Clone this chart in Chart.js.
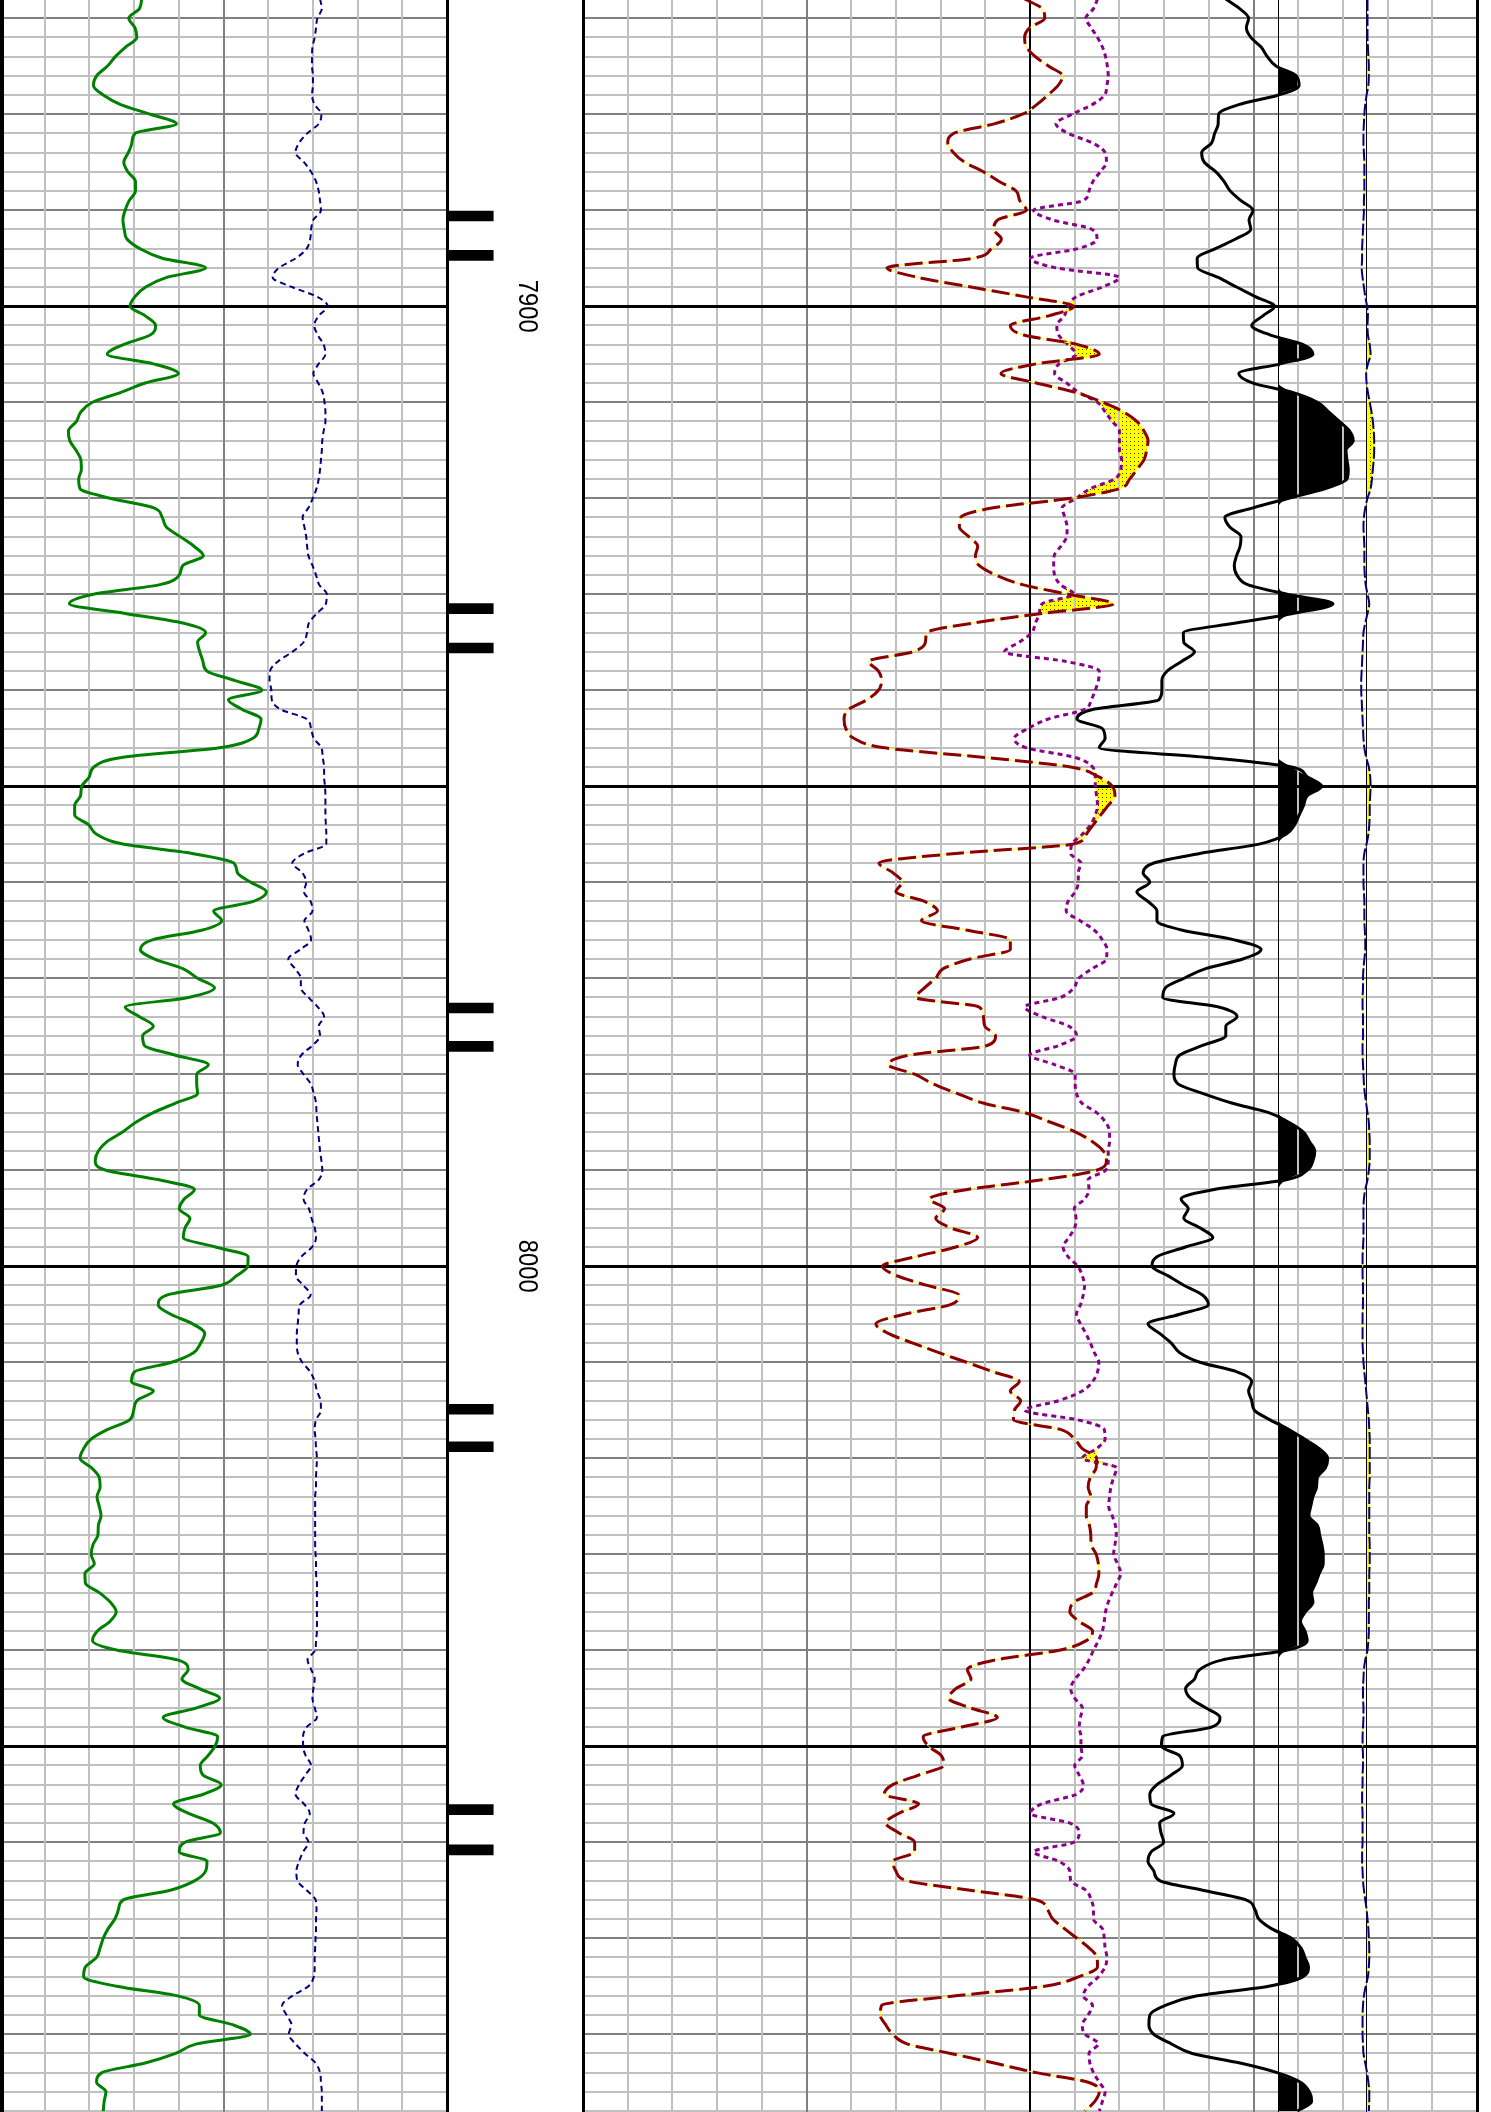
<!DOCTYPE html>
<html>
<head>
<meta charset="utf-8">
<title>Well log 7868-8088</title>
<script src="https://cdn.jsdelivr.net/npm/chart.js@4/dist/chart.umd.min.js"></script>
<style>
  html, body { margin: 0; padding: 0; background: #ffffff; }
  body { width: 1491px; height: 2112px; position: relative; overflow: hidden; }
  .trk { position: absolute; top: 0; height: 2112px; }
</style>
</head>
<body>
<div class="trk" style="left:-10px;width:467px"><canvas id="track1"></canvas></div>
<div class="trk" style="left:437px;width:156px"><canvas id="depthTrack"></canvas></div>
<div class="trk" style="left:573px;width:914px"><canvas id="track2fill"></canvas></div>
<div class="trk" style="left:573px;width:914px"><canvas id="track2"></canvas></div>
<script>
// depth window shown on the sheet (ft)
const depthTop = 7868.1;
const depthBottom = 8088.1;

// sample depths, one per foot
const depth = [
  7868, 7869, 7870, 7871, 7872, 7873, 7874, 7875, 7876, 7877,
  7878, 7879, 7880, 7881, 7882, 7883, 7884, 7885, 7886, 7887,
  7888, 7889, 7890, 7891, 7892, 7893, 7894, 7895, 7896, 7897,
  7898, 7899, 7900, 7901, 7902, 7903, 7904, 7905, 7906, 7907,
  7908, 7909, 7910, 7911, 7912, 7913, 7914, 7915, 7916, 7917,
  7918, 7919, 7920, 7921, 7922, 7923, 7924, 7925, 7926, 7927,
  7928, 7929, 7930, 7931, 7932, 7933, 7934, 7935, 7936, 7937,
  7938, 7939, 7940, 7941, 7942, 7943, 7944, 7945, 7946, 7947,
  7948, 7949, 7950, 7951, 7952, 7953, 7954, 7955, 7956, 7957,
  7958, 7959, 7960, 7961, 7962, 7963, 7964, 7965, 7966, 7967,
  7968, 7969, 7970, 7971, 7972, 7973, 7974, 7975, 7976, 7977,
  7978, 7979, 7980, 7981, 7982, 7983, 7984, 7985, 7986, 7987,
  7988, 7989, 7990, 7991, 7992, 7993, 7994, 7995, 7996, 7997,
  7998, 7999, 8000, 8001, 8002, 8003, 8004, 8005, 8006, 8007,
  8008, 8009, 8010, 8011, 8012, 8013, 8014, 8015, 8016, 8017,
  8018, 8019, 8020, 8021, 8022, 8023, 8024, 8025, 8026, 8027,
  8028, 8029, 8030, 8031, 8032, 8033, 8034, 8035, 8036, 8037,
  8038, 8039, 8040, 8041, 8042, 8043, 8044, 8045, 8046, 8047,
  8048, 8049, 8050, 8051, 8052, 8053, 8054, 8055, 8056, 8057,
  8058, 8059, 8060, 8061, 8062, 8063, 8064, 8065, 8066, 8067,
  8068, 8069, 8070, 8071, 8072, 8073, 8074, 8075, 8076, 8077,
  8078, 8079, 8080, 8081, 8082, 8083, 8084, 8085, 8086, 8087,
  8088
];

// track 1 (scale 0-10 divisions): green solid curve
const gr = [
  3.17, 3.12, 2.88, 3.02, 3.06, 2.81, 2.58, 2.40, 2.16, 2.09,
  2.31, 2.70, 3.36, 3.95, 3.02, 2.95, 2.87, 2.77, 2.86, 3.03,
  3.03, 2.89, 2.80, 2.75, 2.78, 2.84, 3.13, 3.63, 4.60, 3.73,
  3.26, 3.02, 2.91, 3.25, 3.48, 3.36, 2.76, 2.40, 3.43, 3.99,
  3.25, 2.69, 2.07, 1.81, 1.71, 1.53, 1.56, 1.70, 1.81, 1.82,
  1.76, 1.79, 2.46, 3.44, 3.63, 3.72, 4.03, 4.34, 4.55, 4.09,
  4.01, 3.58, 2.09, 1.55, 2.80, 4.09, 4.60, 4.42, 4.47, 4.54,
  4.63, 5.26, 5.86, 5.11, 5.42, 5.84, 5.79, 5.66, 4.91, 2.72,
  2.10, 2.00, 1.83, 1.80, 1.67, 1.67, 1.98, 2.16, 2.72, 4.30,
  5.23, 5.31, 5.61, 5.96, 5.67, 4.78, 4.96, 4.51, 3.41, 3.14,
  3.46, 4.09, 4.42, 4.80, 4.22, 2.80, 3.12, 3.43, 3.19, 3.23,
  3.91, 4.66, 4.40, 4.40, 4.42, 3.93, 3.43, 3.04, 2.75, 2.40,
  2.20, 2.13, 2.37, 3.56, 4.35, 4.12, 4.01, 4.25, 4.14, 4.10,
  4.82, 5.55, 5.54, 5.29, 4.93, 3.73, 3.54, 3.82, 4.31, 4.58,
  4.49, 4.33, 3.84, 3.01, 2.94, 3.43, 3.06, 2.99, 2.90, 2.41,
  2.04, 1.87, 1.79, 2.05, 2.22, 2.24, 2.17, 2.22, 2.26, 2.20,
  2.19, 2.08, 2.04, 2.11, 1.90, 1.91, 2.22, 2.47, 2.60, 2.46,
  2.18, 2.07, 2.63, 3.97, 4.21, 4.07, 4.46, 4.91, 4.40, 3.65,
  4.14, 4.87, 4.81, 4.65, 4.48, 4.54, 4.95, 4.55, 3.88, 4.22,
  4.76, 4.93, 4.14, 4.01, 4.63, 4.60, 4.36, 3.81, 2.76, 2.65,
  2.57, 2.42, 2.31, 2.24, 2.16, 1.91, 1.87, 2.61, 3.97, 4.46,
  4.46, 5.20, 5.60, 4.40, 3.93, 3.25, 2.28, 2.16, 2.37, 2.33,
  2.31
];

// track 1: blue dashed curve
const cali = [
  7.16, 7.20, 7.10, 7.07, 7.04, 6.99, 6.98, 6.98, 7.00, 7.00,
  6.98, 7.04, 7.19, 7.13, 6.87, 6.69, 6.61, 6.80, 6.96, 7.07,
  7.13, 7.16, 7.18, 7.01, 6.96, 6.94, 6.86, 6.62, 6.24, 6.10,
  6.53, 7.09, 7.33, 7.13, 7.03, 7.11, 7.24, 7.28, 7.13, 7.01,
  7.12, 7.22, 7.26, 7.28, 7.28, 7.24, 7.21, 7.20, 7.18, 7.16,
  7.13, 7.08, 7.00, 6.90, 6.77, 6.81, 6.85, 6.87, 6.90, 6.99,
  7.07, 7.14, 7.31, 7.29, 7.09, 6.91, 6.87, 6.79, 6.54, 6.22,
  6.04, 6.03, 6.07, 6.08, 6.28, 6.86, 6.96, 7.02, 7.19, 7.22,
  7.25, 7.25, 7.27, 7.28, 7.28, 7.28, 7.29, 7.30, 7.30, 6.81,
  6.54, 6.76, 6.85, 6.80, 6.95, 6.99, 6.81, 6.90, 6.96, 6.72,
  6.45, 6.60, 6.73, 6.73, 6.90, 7.11, 7.25, 7.13, 7.16, 6.99,
  6.74, 6.66, 6.79, 6.95, 7.02, 7.07, 7.08, 7.10, 7.12, 7.14,
  7.16, 7.19, 7.21, 7.13, 6.87, 6.79, 6.91, 6.97, 7.04, 7.07,
  6.98, 6.74, 6.63, 6.62, 6.79, 6.95, 6.71, 6.68, 6.66, 6.64,
  6.64, 6.66, 6.76, 6.94, 7.04, 7.09, 7.17, 7.18, 7.07, 7.04,
  7.06, 7.07, 7.09, 7.08, 7.07, 7.07, 7.05, 7.05, 7.05, 7.05,
  7.05, 7.05, 7.06, 7.07, 7.07, 7.09, 7.09, 7.09, 7.09, 7.09,
  7.09, 7.07, 7.05, 6.88, 6.96, 7.04, 7.01, 6.99, 7.04, 7.09,
  6.86, 6.78, 6.78, 6.84, 6.96, 6.83, 6.69, 6.61, 6.80, 6.93,
  6.82, 6.79, 6.90, 6.78, 6.69, 6.63, 6.65, 6.86, 7.06, 7.08,
  7.07, 7.07, 7.06, 7.05, 7.04, 7.04, 7.02, 6.90, 6.54, 6.31,
  6.41, 6.52, 6.46, 6.61, 6.82, 7.06, 7.16, 7.18, 7.20, 7.20,
  7.20
];

// track 2 (scale 0-20 divisions): dark red long-dashed curve
const nphi = [
  9.88, 10.27, 10.33, 9.99, 9.88, 9.92, 10.12, 10.42, 10.73, 10.63,
  10.40, 10.15, 9.83, 9.20, 8.29, 8.16, 8.29, 8.54, 8.96, 9.31,
  9.69, 9.77, 9.92, 9.28, 9.19, 9.36, 9.14, 8.73, 6.80, 7.50,
  8.68, 9.88, 10.98, 10.42, 9.56, 9.86, 11.07, 11.55, 10.14, 9.35,
  10.14, 11.04, 11.62, 12.09, 12.39, 12.55, 12.64, 12.61, 12.55, 12.39,
  12.23, 12.00, 10.91, 9.18, 8.45, 8.42, 8.63, 8.83, 8.78, 8.86,
  9.24, 9.83, 10.85, 11.87, 10.27, 8.73, 7.70, 7.66, 7.38, 6.39,
  6.61, 6.68, 6.61, 6.35, 5.94, 5.84, 5.88, 6.06, 6.74, 8.99,
  10.91, 11.53, 11.84, 11.90, 11.75, 11.58, 11.42, 11.26, 10.98, 8.34,
  6.62, 6.93, 7.14, 7.00, 7.64, 7.93, 7.57, 8.60, 9.56, 9.56,
  8.66, 8.06, 7.89, 7.64, 7.45, 8.86, 8.96, 8.99, 9.23, 9.05,
  7.32, 6.83, 7.42, 7.83, 8.37, 8.95, 9.88, 10.46, 11.01, 11.39,
  11.64, 11.71, 11.49, 10.27, 8.60, 7.75, 8.09, 7.89, 8.22, 8.83,
  8.34, 7.45, 6.70, 7.03, 7.70, 8.41, 8.22, 7.19, 6.55, 6.83,
  7.38, 7.96, 8.58, 9.18, 9.76, 9.56, 9.79, 9.65, 9.63, 10.68,
  11.00, 11.17, 11.49, 11.48, 11.35, 11.30, 11.36, 11.26, 11.26, 11.33,
  11.36, 11.37, 11.48, 11.53, 11.54, 11.49, 11.40, 10.98, 10.89, 11.10,
  11.40, 11.26, 10.65, 9.24, 8.60, 8.68, 8.34, 8.18, 8.66, 9.27,
  8.47, 7.61, 7.73, 8.02, 8.07, 7.51, 6.93, 6.74, 7.51, 7.06,
  6.77, 7.06, 7.42, 7.42, 6.93, 7.00, 7.24, 8.66, 10.14, 10.39,
  10.51, 10.77, 11.05, 11.32, 11.50, 11.51, 11.10, 10.33, 8.34, 6.68,
  6.65, 6.77, 6.93, 7.25, 8.22, 9.20, 10.14, 11.30, 11.55, 11.45,
  11.23
];

// track 2: purple dotted curve
const dphi = [
  11.51, 11.42, 11.25, 11.37, 11.51, 11.62, 11.69, 11.73, 11.75, 11.72,
  11.67, 11.39, 10.94, 10.58, 10.86, 11.40, 11.68, 11.71, 11.57, 11.41,
  11.32, 11.19, 10.08, 10.50, 11.39, 11.50, 11.07, 10.01, 10.58, 12.00,
  11.62, 11.04, 10.85, 10.77, 10.60, 10.64, 10.85, 11.03, 10.65, 10.55,
  10.82, 11.10, 11.51, 11.68, 11.84, 12.00, 12.00, 12.00, 12.05, 12.03,
  11.89, 11.35, 11.04, 10.72, 10.78, 10.83, 10.82, 10.69, 10.54, 10.53,
  10.55, 10.68, 10.98, 10.27, 10.21, 10.12, 10.04, 9.76, 9.43, 10.80,
  11.55, 11.53, 11.46, 11.37, 11.22, 10.41, 9.95, 9.65, 9.92, 11.01,
  11.40, 11.46, 11.46, 11.49, 11.51, 11.46, 11.36, 11.17, 10.94, 10.91,
  11.14, 11.08, 11.08, 11.01, 10.85, 10.81, 11.12, 11.44, 11.62, 11.72,
  11.71, 11.39, 11.09, 10.98, 10.68, 9.88, 10.27, 10.87, 11.04, 10.65,
  9.99, 10.55, 11.01, 11.01, 11.04, 11.16, 11.49, 11.69, 11.78, 11.78,
  11.75, 11.75, 11.69, 11.30, 11.32, 11.22, 10.99, 11.03, 11.00, 10.87,
  10.74, 10.85, 11.07, 11.17, 11.22, 11.19, 11.13, 11.04, 11.13, 11.25,
  11.35, 11.44, 11.54, 11.51, 11.40, 11.17, 10.65, 9.88, 11.07, 11.66,
  11.68, 11.49, 11.17, 11.94, 11.87, 11.81, 11.78, 11.76, 11.84, 11.91,
  11.93, 11.90, 11.87, 11.96, 12.03, 11.94, 11.84, 11.75, 11.69, 11.66,
  11.62, 11.53, 11.42, 11.32, 11.19, 11.01, 10.91, 11.00, 11.17, 11.13,
  11.10, 11.14, 11.14, 11.17, 11.00, 11.10, 11.19, 11.04, 10.27, 10.01,
  10.89, 11.10, 10.98, 10.08, 10.65, 10.89, 10.91, 11.25, 11.37, 11.42,
  11.42, 11.62, 11.66, 11.68, 11.72, 11.68, 11.53, 11.30, 11.19, 11.40,
  11.30, 11.17, 11.23, 11.53, 11.32, 11.34, 11.42, 11.55, 11.68, 11.62,
  11.55
];

// track 2: black solid curve (shaded right of its cutoff)
const res = [
  14.38, 14.69, 14.89, 14.84, 14.94, 15.17, 15.31, 15.51, 15.96, 16.02,
  15.56, 14.67, 14.22, 14.21, 14.13, 14.06, 13.84, 13.90, 14.16, 14.34,
  14.48, 14.72, 14.99, 14.90, 14.94, 14.60, 14.15, 13.74, 13.75, 14.21,
  14.62, 15.04, 15.47, 15.21, 14.96, 15.38, 16.11, 16.33, 15.60, 14.67,
  14.99, 15.89, 16.43, 16.68, 16.92, 17.15, 17.23, 17.07, 17.09, 17.12,
  17.09, 16.61, 15.79, 14.99, 14.36, 14.47, 14.72, 14.70, 14.62, 14.57,
  14.63, 14.87, 15.75, 16.78, 15.88, 14.61, 13.43, 13.44, 13.68, 13.39,
  13.07, 12.95, 12.95, 12.88, 11.40, 11.05, 11.62, 11.68, 11.55, 13.99,
  15.85, 16.20, 16.53, 16.20, 16.12, 16.02, 15.92, 15.73, 15.15, 13.80,
  12.77, 12.53, 12.68, 12.39, 12.64, 12.84, 12.84, 13.41, 14.57, 15.17,
  14.76, 13.93, 13.45, 13.03, 12.97, 14.22, 14.63, 14.38, 14.38, 13.86,
  13.35, 13.25, 13.22, 13.31, 13.86, 14.51, 15.34, 15.79, 16.11, 16.25,
  16.37, 16.33, 16.20, 15.73, 14.12, 13.38, 13.54, 13.44, 13.80, 14.09,
  13.48, 12.84, 12.73, 13.09, 13.45, 13.86, 13.99, 13.35, 12.64, 12.90,
  13.16, 13.35, 13.80, 14.63, 14.96, 14.89, 14.96, 15.02, 15.37, 15.79,
  16.14, 16.47, 16.66, 16.61, 16.43, 16.41, 16.33, 16.28, 16.24, 16.43,
  16.48, 16.53, 16.56, 16.56, 16.47, 16.39, 16.30, 16.33, 16.16, 16.05,
  16.15, 16.20, 15.73, 14.31, 13.80, 13.68, 13.48, 13.59, 13.93, 14.25,
  14.06, 12.97, 12.94, 13.35, 13.41, 13.16, 12.84, 12.68, 12.71, 13.22,
  12.90, 12.93, 12.99, 12.71, 12.64, 12.77, 12.90, 13.86, 14.83, 15.03,
  15.12, 15.40, 15.85, 16.06, 16.15, 16.23, 16.11, 15.34, 13.74, 13.03,
  12.68, 12.66, 12.77, 13.16, 13.63, 14.70, 15.53, 16.05, 16.25, 16.30,
  15.98
];

// track 2: navy curve near the right (shaded right of its cutoff)
const sp = [
  17.55, 17.55, 17.55, 17.55, 17.55, 17.56, 17.57, 17.58, 17.58, 17.57,
  17.53, 17.50, 17.48, 17.47, 17.46, 17.46, 17.47, 17.48, 17.48, 17.48,
  17.48, 17.47, 17.47, 17.46, 17.45, 17.44, 17.43, 17.43, 17.42, 17.44,
  17.47, 17.50, 17.54, 17.56, 17.55, 17.56, 17.60, 17.62, 17.56, 17.52,
  17.53, 17.56, 17.60, 17.64, 17.67, 17.69, 17.70, 17.70, 17.69, 17.67,
  17.65, 17.62, 17.55, 17.50, 17.47, 17.46, 17.47, 17.48, 17.48, 17.48,
  17.49, 17.51, 17.55, 17.59, 17.55, 17.50, 17.46, 17.45, 17.44, 17.43,
  17.42, 17.41, 17.41, 17.42, 17.43, 17.44, 17.45, 17.46, 17.48, 17.52,
  17.58, 17.61, 17.62, 17.61, 17.60, 17.60, 17.59, 17.57, 17.53, 17.48,
  17.46, 17.46, 17.46, 17.47, 17.48, 17.48, 17.48, 17.49, 17.50, 17.50,
  17.48, 17.46, 17.45, 17.45, 17.44, 17.44, 17.45, 17.45, 17.45, 17.44,
  17.44, 17.45, 17.46, 17.47, 17.49, 17.52, 17.55, 17.58, 17.59, 17.60,
  17.60, 17.60, 17.58, 17.55, 17.50, 17.47, 17.46, 17.46, 17.46, 17.46,
  17.45, 17.44, 17.44, 17.44, 17.45, 17.45, 17.45, 17.44, 17.44, 17.44,
  17.44, 17.45, 17.46, 17.48, 17.50, 17.52, 17.54, 17.56, 17.58, 17.59,
  17.60, 17.60, 17.60, 17.60, 17.60, 17.59, 17.59, 17.59, 17.59, 17.59,
  17.59, 17.60, 17.60, 17.60, 17.59, 17.59, 17.59, 17.58, 17.58, 17.58,
  17.58, 17.57, 17.55, 17.50, 17.47, 17.46, 17.45, 17.45, 17.46, 17.46,
  17.45, 17.44, 17.44, 17.45, 17.45, 17.44, 17.44, 17.43, 17.43, 17.44,
  17.44, 17.44, 17.44, 17.43, 17.43, 17.44, 17.45, 17.47, 17.50, 17.53,
  17.55, 17.57, 17.58, 17.59, 17.59, 17.58, 17.56, 17.51, 17.47, 17.45,
  17.44, 17.44, 17.44, 17.45, 17.46, 17.50, 17.54, 17.57, 17.59, 17.59,
  17.58
];

// shading cutoffs (track 2 divisions)
const resCutoff = 15.56;
const spCutoff = 17.535;

// black marks in the depth column
const markDepths = [7890.6, 7894.7, 7931.5, 7935.6, 7973.1, 7977.1, 8014.9, 8018.8, 8056.6, 8060.8];
const markLength = 0.34;

// depth labels
const depthLabels = [7900, 8000];
const labelPos = 0.59;

function pts(vals) {
  return vals.map((v, i) => ({ x: v, y: depth[i] }));
}

function curve(vals, color, width, dash) {
  return {
    data: pts(vals),
    borderColor: color,
    borderWidth: width,
    borderDash: dash || [],
    pointRadius: 0,
    fill: false,
    cubicInterpolationMode: 'monotone'
  };
}

function shade(vals, fill, color) {
  return {
    data: pts(vals),
    borderColor: 'transparent',
    borderWidth: 0,
    pointRadius: 0,
    fill: fill,
    backgroundColor: color,
    cubicInterpolationMode: 'monotone'
  };
}

// 2 ft lines (10 ft ones darker); the 50 ft lines come from majorAxis
function depthAxis(showGrid) {
  return {
    type: 'linear', reverse: true, min: depthTop, max: depthBottom, offset: false,
    afterBuildTicks: (s) => {
      const t = [];
      for (let d = 7870; d <= depthBottom; d += 2) t.push({ value: d });
      s.ticks = t;
    },
    ticks: { display: false },
    border: { display: false },
    grid: {
      display: showGrid, drawTicks: false, offset: false, z: -2,
      color: (c) => c.tick.value % 50 === 0 ? 'rgba(0,0,0,0)' : (c.tick.value % 10 === 0 ? '#808080' : '#c0c0c0'),
      lineWidth: 2
    }
  };
}

function majorAxis(z) {
  return {
    axis: 'y', type: 'linear', reverse: true, min: depthTop, max: depthBottom, offset: false,
    afterBuildTicks: (s) => {
      const t = [];
      for (let d = 7900; d <= depthBottom; d += 50) t.push({ value: d });
      s.ticks = t;
    },
    ticks: { display: false },
    border: { display: false },
    grid: { drawTicks: false, offset: false, z: z, color: '#000000', lineWidth: 3 }
  };
}

function trackAxis(max, extra, style, showGrid, z) {
  return {
    type: 'linear', min: 0, max: max, offset: false,
    afterBuildTicks: (s) => {
      const t = [];
      for (let v = 0; v <= max; v++) t.push({ value: v });
      extra.forEach((v) => t.push({ value: v }));
      s.ticks = t;
    },
    ticks: { display: false },
    border: { display: false },
    grid: {
      display: showGrid, drawTicks: false, offset: false, z: z,
      color: (c) => style(c.tick.value)[0],
      lineWidth: (c) => style(c.tick.value)[1]
    }
  };
}

function options(scales) {
  return {
    indexAxis: 'y',
    responsive: true,
    maintainAspectRatio: false,
    devicePixelRatio: 1,
    animation: false,
    events: [],
    layout: { padding: { left: 10, right: 10, top: 0, bottom: 0 }, autoPadding: false },
    plugins: { legend: { display: false }, tooltip: { enabled: false } },
    scales: scales
  };
}

function track1Style(v) {
  if (v === 0) return ['#000000', 8];
  if (v === 10) return ['#000000', 3];
  if (v === 5) return ['#808080', 2];
  return ['#c0c0c0', 2];
}

function track2Style(v) {
  if (v === 0 || v === 20) return ['#000000', 3];
  if (v === resCutoff || v === spCutoff) return ['#000000', 1];
  if (v === 10) return ['#000000', 2];
  if (v === 5 || v === 15) return ['#808080', 2];
  return ['#c0c0c0', 2];
}

function dotPattern() {
  const c = document.createElement('canvas');
  c.width = 4; c.height = 4;
  const g = c.getContext('2d');
  g.fillStyle = '#ffff00';
  g.fillRect(0, 0, 4, 4);
  g.fillStyle = '#404000';
  g.fillRect(1, 1, 1, 1);
  return g.createPattern(c, 'repeat');
}
const yellowDots = dotPattern();

// track 1
new Chart(document.getElementById('track1'), {
  type: 'line',
  data: {
    datasets: [
      curve(gr, '#008000', 3),
      curve(cali, '#000080', 2, [6, 4])
    ]
  },
  options: options({
    x: trackAxis(10, [], track1Style, true, -1),
    y: depthAxis(true),
    yMajor: majorAxis(-0.5)
  })
});

// depth column
const depthLabelPlugin = {
  id: 'depthLabels',
  afterDatasetsDraw(chart) {
    const { ctx, scales } = chart;
    ctx.save();
    ctx.fillStyle = '#000000';
    ctx.font = '28px "Liberation Sans", Arial, sans-serif';
    ctx.textAlign = 'center';
    ctx.textBaseline = 'middle';
    depthLabels.forEach((d) => {
      ctx.save();
      ctx.translate(scales.x.getPixelForValue(labelPos), scales.y.getPixelForValue(d));
      ctx.rotate(Math.PI / 2);
      ctx.scale(0.85, 1);
      ctx.fillText(String(d), 0, 1);
      ctx.restore();
    });
    ctx.restore();
  }
};

new Chart(document.getElementById('depthTrack'), {
  type: 'bar',
  data: {
    datasets: [{
      data: markDepths.map((d) => ({ x: markLength, y: d })),
      backgroundColor: '#000000',
      borderWidth: 0,
      barThickness: 10
    }]
  },
  options: options({
    x: trackAxis(1, [], () => ['#000000', 3], true, 1),
    y: depthAxis(false)
  }),
  plugins: [depthLabelPlugin]
});

// track 2: shading layer (vertical grid drawn over the shading)
new Chart(document.getElementById('track2fill'), {
  type: 'line',
  data: {
    datasets: [
      shade(nphi.map((v, i) => Math.max(v, dphi[i])), 1, yellowDots),
      shade(dphi, false, 'transparent'),
      shade(res.map((v) => Math.max(v, resCutoff)), { value: resCutoff }, '#000000'),
      shade(sp.map((v) => Math.max(v, spCutoff)), { value: spCutoff }, yellowDots)
    ]
  },
  options: options({
    x: trackAxis(20, [resCutoff, spCutoff], track2Style, true, 1),
    y: depthAxis(true),
    yMajor: majorAxis(2)
  })
});

// track 2: curves
new Chart(document.getElementById('track2'), {
  type: 'line',
  data: {
    datasets: [
      curve(nphi, '#8b0000', 3, [18, 6]),
      curve(nphi, '#ffff00', 1),
      curve(dphi, '#8b008b', 3, [5, 4]),
      curve(res, '#000000', 3),
      curve(sp, '#000080', 2, [12, 3]),
      curve(sp, '#ffff00', 1)
    ]
  },
  options: options({
    x: trackAxis(20, [], track2Style, false, 1),
    y: depthAxis(false)
  })
});
</script>
</body>
</html>
